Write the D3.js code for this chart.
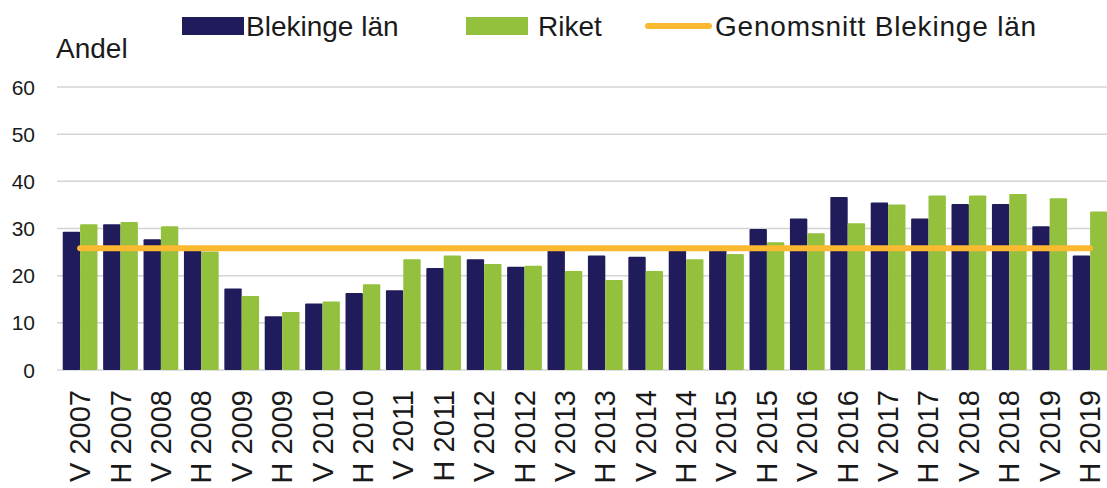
<!DOCTYPE html>
<html>
<head>
<meta charset="utf-8">
<script src="https://cdn.jsdelivr.net/npm/d3@7"></script>
<style>
  body { margin: 0; background: #fff; }
  text { font-family: "Liberation Sans", Arial, sans-serif; fill: #1a1a1a; }
</style>
</head>
<body>
<svg id="chart"></svg>
<script>
const periods = ['V 2007', 'H 2007', 'V 2008', 'H 2008', 'V 2009', 'H 2009', 'V 2010', 'H 2010',
    'V 2011', 'H 2011', 'V 2012', 'H 2012', 'V 2013', 'H 2013', 'V 2014', 'H 2014',
    'V 2015', 'H 2015', 'V 2016', 'H 2016', 'V 2017', 'H 2017', 'V 2018', 'H 2018',
    'V 2019', 'H 2019']
const blekinge = [29.3, 30.9, 27.7, 26.0, 17.3, 11.4, 14.1, 16.3, 16.9, 21.6, 23.5, 21.9,
    25.8, 24.3, 24.0, 25.7, 25.6, 29.9, 32.1, 36.7, 35.5, 32.1, 35.2, 35.2, 30.5, 24.3]
const riket = [30.9, 31.4, 30.5, 25.1, 15.7, 12.3, 14.5, 18.2, 23.5, 24.3, 22.5, 22.1,
    21.0, 19.1, 21.0, 23.5, 24.6, 27.1, 29.0, 31.1, 35.1, 37.0, 37.0, 37.3, 36.4, 33.6]
const snittBlekinge = 25.8
const yTicks = [0, 10, 20, 30, 40, 50, 60]
const seriesNames = ['Blekinge län', 'Riket']
const lineName = 'Genomsnitt Blekinge län'

const colors = { blue: '#201b5b', green: '#93c13e', orange: '#fbb931', grid: '#d4d4d4' }

buildChart()

function buildChart() {
    const width = 1107
    const height = 488

    const svg = d3.select('#chart')
        .attr('width', width)
        .attr('height', height)

    const x = d3.scaleBand()
        .domain(periods)
        .range([59.5, 1110.7])
        .paddingInner(0.14)
        .paddingOuter(0.08)

    const xs = d3.scaleBand()
        .domain(seriesNames)
        .range([0, x.bandwidth()])

    const y = d3.scaleLinear()
        .domain([0, 60])
        .range([370, 87])

    // grid lines
    svg.append('g')
        .selectAll('line')
        .data(yTicks)
        .join('line')
        .attr('x1', 57)
        .attr('x2', width)
        .attr('y1', d => y(d))
        .attr('y2', d => y(d))
        .style('stroke', colors.grid)
        .style('stroke-width', 1.5)

    // y labels
    svg.append('g')
        .selectAll('text')
        .data(yTicks)
        .join('text')
        .attr('x', 35)
        .attr('y', d => y(d) + 7.5)
        .attr('text-anchor', 'end')
        .style('font-size', '21px')
        .text(d => d)

    svg.append('text')
        .attr('x', 56)
        .attr('y', 58)
        .style('font-size', '28px')
        .text('Andel')

    // bars
    const rows = periods.map((p, i) => ({ p, values: [blekinge[i], riket[i]] }))
    const groups = svg.append('g')
        .selectAll('g')
        .data(rows)
        .join('g')
        .attr('transform', d => `translate(${x(d.p)},0)`)

    groups.selectAll('rect')
        .data(d => d.values.map((v, j) => ({ name: seriesNames[j], v })))
        .join('rect')
        .attr('x', d => xs(d.name))
        .attr('width', xs.bandwidth())
        .attr('y', d => y(d.v))
        .attr('height', d => y(0) - y(d.v))
        .attr('rx', 1)
        .style('fill', d => d.name === seriesNames[0] ? colors.blue : colors.green)

    // average line
    const half = x.bandwidth() / 2
    svg.append('line')
        .attr('x1', x(periods[0]) + half)
        .attr('x2', x(periods[periods.length - 1]) + half)
        .attr('y1', y(snittBlekinge))
        .attr('y2', y(snittBlekinge))
        .style('stroke', colors.orange)
        .style('stroke-width', 6)
        .style('stroke-linecap', 'round')

    // x labels
    svg.append('g')
        .selectAll('text')
        .data(periods)
        .join('text')
        .attr('transform', d => `translate(${x(d) + half + 10},390) rotate(-90)`)
        .attr('text-anchor', 'end')
        .style('font-size', '29px')
        .text(d => d)

    // legend
    const legend = svg.append('g')
    legend.append('rect').attr('x', 182).attr('y', 17).attr('width', 62).attr('height', 18)
        .style('fill', colors.blue)
    legend.append('text').attr('x', 246).attr('y', 36).style('font-size', '28px').text(seriesNames[0])
    legend.append('rect').attr('x', 466).attr('y', 17).attr('width', 62).attr('height', 18)
        .style('fill', colors.green)
    legend.append('text').attr('x', 538).attr('y', 36).style('font-size', '28px').text(seriesNames[1])
    legend.append('line').attr('x1', 648).attr('x2', 709).attr('y1', 26).attr('y2', 26)
        .style('stroke', colors.orange).style('stroke-width', 6).style('stroke-linecap', 'round')
    legend.append('text').attr('x', 715).attr('y', 36)
        .style('font-size', '28px')
        .style('letter-spacing', '0.8px')
        .text(lineName)
}
</script>
</body>
</html>
